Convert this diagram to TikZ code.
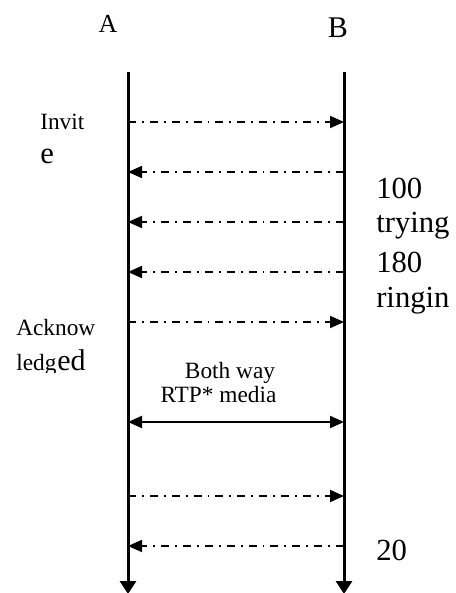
\documentclass[tikz,border=0pt]{standalone}
\usepackage{fontspec}
\setmainfont{Liberation Serif}
\usepackage{tikz}
\usetikzlibrary{positioning}
\usetikzlibrary{arrows.meta, calc}

\newcommand{\smalltxt}{\fontsize{17.5}{20}\selectfont}
\newcommand{\bigtxt}{\fontsize{23}{26}\selectfont}

\begin{document}
\begin{tikzpicture}[x=0.75pt, y=-0.75pt, >=Triangle]%
            \tikzstyle{life} = [ line width = 2.25pt, -{Triangle[length=9.75pt, width=12pt]}]
            \tikzstyle{msg} = [ line width = 1.3pt, dash pattern = on 6pt off 4.5pt on 1.4pt off 4.5pt, -{Triangle[length=10.5pt, width=9pt]}]
            \tikzstyle{media} = [ line width = 1.6pt, {Triangle[length=10.5pt, width=9pt]}-{Triangle[length=10.5pt, width=9pt]}]
            \tikzstyle{lbl} = [ inner sep = 0pt, anchor = base west]
        %%
            \useasboundingbox (0,0) rectangle (455,593);
            %% Endpoints
            \node [inner sep = 0pt, anchor = base] (A) at (108,32) {\fontsize{19.5}{22}\selectfont A};
            \node [inner sep = 0pt, anchor = base] (B) at (338,37) {\fontsize{22.5}{25}\selectfont B};
            \coordinate (a_top) at (128,72);
            \coordinate (a_bot) at (128,594);
            \coordinate (b_top) at (344,72);
            \coordinate (b_bot) at (344,594);
            \draw[life] (a_top) -- (a_bot);
            \draw[life] (b_top) -- (b_bot);

            %% Message rows
            \foreach \y/\n in {122/1, 172/2, 222/3, 272/4, 322/5, 422/6, 496/7, 546/8}{
                \coordinate (a\n) at (a_top |- 0,\y);
                \coordinate (b\n) at (b_top |- 0,\y);
            }
            \draw[msg] (a1) -- (b1);
            \draw[msg] (b2) -- (a2);
            \draw[msg] (b3) -- (a3);
            \draw[msg] (b4) -- (a4);
            \draw[msg] (a5) -- (b5);
            \draw[media] (a6) -- (b6);
            \draw[msg] (a7) -- (b7);
            \draw[msg] (b8) -- (a8);

            %% Labels
            \node [lbl] (invit) at (40,129) {\smalltxt Invit};
            \node [lbl] (invit_e) at (40,163) {\bigtxt e};
            \node [lbl] (t100) at (376,198) {\bigtxt 100};
            \node [lbl] (trying) at (376,232) {\bigtxt trying};
            \node [lbl] (t180) at (376,272) {\bigtxt 180};
            \node [lbl] (ringin) at (376,307) {\bigtxt ringin};
            \node [lbl] (ack) at (16,335) {\smalltxt Acknow};
            \begin{scope}
                \clip (0,330) rectangle (60,372);
                \node [lbl] (ack_l) at (16,370) {\smalltxt ledg};
            \end{scope}
            \node [lbl] (ack_e) at (57,370) {\fontsize{22.5}{25}\selectfont ed};
            \node [inner sep = 0pt, anchor = base] (both) at (230,378) {\smalltxt Both way};
            \node [inner sep = 0pt, anchor = base] (rtp) at (218.5,402) {\smalltxt RTP* media};
            \node [lbl] (t20) at (376,560) {\bigtxt 20};
        \end{tikzpicture}
\end{document}
